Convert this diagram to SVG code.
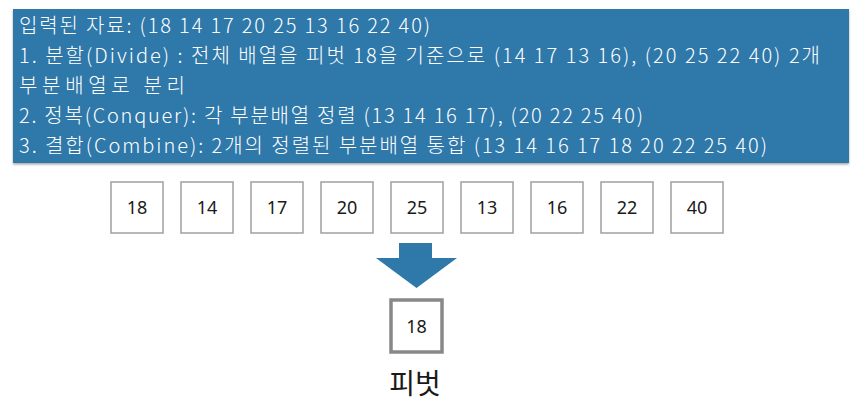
<svg xmlns="http://www.w3.org/2000/svg" width="864" height="406" viewBox="0 0 864 406">
<defs>
<style>
.hdr{font-family:"Noto Sans CJK KR","Noto Sans",sans-serif;font-size:20px;font-weight:300;fill:#ffffff}
.box rect{fill:#ffffff;stroke:#a0a0a0;stroke-width:1.5}
.box text{font-family:"Noto Sans","Noto Sans CJK KR",sans-serif;font-size:18px;fill:#1a1a1a;text-anchor:middle}
</style>
<filter id="sh" x="-5%" y="-5%" width="110%" height="115%"><feDropShadow dx="0" dy="1.5" stdDeviation="1.2" flood-color="#000" flood-opacity="0.35"/></filter>
</defs>
<rect width="864" height="406" fill="#ffffff"/>
<g id="header">
<rect x="13" y="9" width="836" height="154" fill="#2f78aa" filter="url(#sh)"/>
<text class="hdr" x="19" y="33" textLength="411" lengthAdjust="spacing">입력된 자료: (18 14 17 20 25 13 16 22 40)</text>
<text class="hdr" x="19" y="63" textLength="801" lengthAdjust="spacing">1. 분할(Divide) : 전체 배열을 피벗 18을 기준으로 (14 17 13 16), (20 25 22 40) 2개</text>
<text class="hdr" x="19" y="93" textLength="166" lengthAdjust="spacing">부분배열로 분리</text>
<text class="hdr" x="19" y="123" textLength="624" lengthAdjust="spacing">2. 정복(Conquer): 각 부분배열 정렬 (13 14 16 17), (20 22 25 40)</text>
<text class="hdr" x="19" y="153" textLength="748" lengthAdjust="spacing">3. 결합(Combine): 2개의 정렬된 부분배열 통합 (13 14 16 17 18 20 22 25 40)</text>
</g>
<g id="n18" class="box"><rect x="111" y="182" width="52" height="51"/><text x="137" y="214">18</text></g>
<g id="n14" class="box"><rect x="181" y="182" width="52" height="51"/><text x="207" y="214">14</text></g>
<g id="n17" class="box"><rect x="251" y="182" width="52" height="51"/><text x="277" y="214">17</text></g>
<g id="n20" class="box"><rect x="321" y="182" width="52" height="51"/><text x="347" y="214">20</text></g>
<g id="n25" class="box"><rect x="391" y="182" width="52" height="51"/><text x="417" y="214">25</text></g>
<g id="n13" class="box"><rect x="461" y="182" width="52" height="51"/><text x="487" y="214">13</text></g>
<g id="n16" class="box"><rect x="531" y="182" width="52" height="51"/><text x="557" y="214">16</text></g>
<g id="n22" class="box"><rect x="601" y="182" width="52" height="51"/><text x="627" y="214">22</text></g>
<g id="n40" class="box"><rect x="671" y="182" width="52" height="51"/><text x="697" y="214">40</text></g>
<g id="connectors">
<polygon points="399,243 432,243 432,258 457,258 416.5,288 376,258 399,258" fill="#2f78aa"/>
</g>
<g id="pivot">
<rect x="391" y="300" width="51" height="52" fill="#ffffff" stroke="#888888" stroke-width="3.5"/>
<text x="416.5" y="333" font-family="Noto Sans, Noto Sans CJK KR, sans-serif" font-size="18" fill="#1a1a1a" text-anchor="middle">18</text>
<text x="415" y="394" font-family="Noto Sans CJK KR, sans-serif" font-size="28" fill="#1a1a1a" text-anchor="middle">피벗</text>
</g>
</svg>
